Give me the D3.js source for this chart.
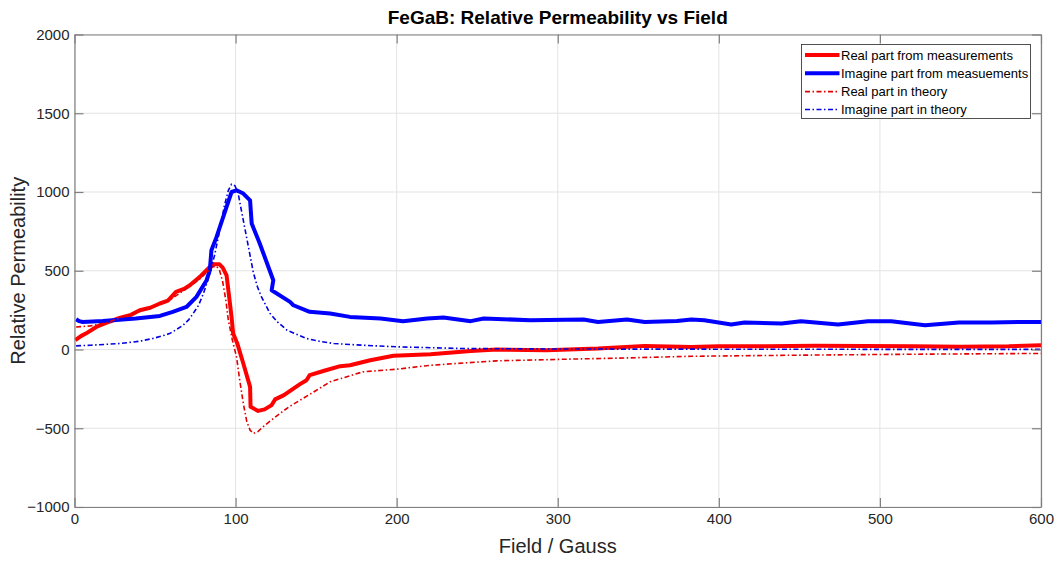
<!DOCTYPE html>
<html>
<head>
<meta charset="utf-8">
<script src="https://cdn.jsdelivr.net/npm/d3@7"></script>
<style>
  html, body { margin: 0; padding: 0; background: #fff; }
  svg { display: block; font-family: "Liberation Sans", Arial, sans-serif; }
</style>
</head>
<body>
<div id="chart"></div>
<script>
// Field values (Gauss) and relative permeability, measured and theoretical
const realMeasField = [0.5, 4, 7, 13.5, 20, 28, 35, 40.5, 47, 53, 58, 63, 68, 71.6, 77.8, 84, 86, 90, 92, 94.4, 97.5, 98.5, 101, 104.8, 109, 109.3, 114, 118, 122.4, 124.5, 130, 135.9, 140, 144, 146, 155, 165, 171, 183.6, 198, 221, 246, 262, 293, 325, 354, 383, 400, 430, 460, 490, 520, 550, 580, 600];
const realMeasValue = [59, 85, 101, 143, 170, 200, 220, 249, 265, 292, 310, 366, 385, 408, 461, 524, 541, 541, 520, 471, 207, 101, 40, -89, -237, -364, -390, -380, -353, -317, -290, -248, -220, -195, -163, -135, -106, -100, -68, -40, -30, -9, 0, -4, 6, 23, 16, 21, 20, 24, 22, 20, 18, 20, 27];

const imagMeasField = [1, 3, 5, 17.6, 38, 53, 61, 69.5, 75.7, 82, 84, 85, 88.2, 94.4, 97.5, 100.6, 104.8, 109, 110, 115, 123.4, 122.4, 133.8, 135.9, 146, 158.7, 171, 190, 204, 219, 229, 246, 254, 283, 316, 325, 343, 354, 374, 383, 391, 407.7, 416, 439, 451, 474, 492.6, 507, 528, 549, 569.5, 586, 600];
const imagMeasValue = [192, 180, 175, 181, 197, 213, 239, 270, 334, 440, 503, 630, 715, 905, 1000, 1011, 990, 947, 800, 673, 440, 376, 302, 281, 239, 228, 207, 197, 180, 197, 203, 180, 197, 186, 190, 175, 190, 175, 181, 190, 186, 159, 171, 165, 180, 159, 180, 180, 154, 171, 171, 175, 175];

const realTheoryField = [1, 10, 20, 28, 40, 50, 60, 70, 78, 84, 86, 88, 90, 92, 94, 95.5, 98, 100.6, 102.5, 104.8, 107, 109, 111, 114, 117, 122, 127.6, 133, 140, 150, 158.7, 179, 200, 221, 262, 304, 345, 383, 450, 520, 600];
const realTheoryValue = [143, 150, 170, 200, 240, 275, 320, 390, 450, 510, 525, 530, 505, 430, 310, 186, 60, -47, -190, -343, -460, -512, -533, -520, -491, -450, -406, -365, -322, -260, -205, -142, -125, -100, -72, -62, -53, -43, -36, -30, -25];

const imagTheoryField = [1, 10, 20, 28, 40, 48.7, 55, 59, 63, 67.4, 71, 73.6, 77, 80, 82, 84, 87, 90, 93, 95.5, 97.5, 99.6, 101.6, 104.8, 108, 111, 113.5, 116, 121.4, 126, 132, 144, 152, 161, 179, 200, 242, 304, 400, 500, 600];
const imagTheoryValue = [23, 27, 33, 38, 52, 70, 88, 101, 125, 154, 190, 228, 280, 355, 415, 482, 600, 750, 910, 1010, 1050, 1040, 990, 820, 650, 490, 400, 335, 228, 175, 122, 70, 52, 38, 27, 17, 6, 3, 2, 1, 1];

// Axis ticks and labels
const xTicks = [0, 100, 200, 300, 400, 500, 600];
const yTicks = [-1000, -500, 0, 500, 1000, 1500, 2000];
const legendLabels = ["Real part from measurements", "Imagine part from measuements", "Real part in theory", "Imagine part in theory"];

const W = 1057, H = 561;
const margin = { left: 74.5, right: 16, top: 34.5, bottom: 54 };
const plotW = W - margin.left - margin.right;
const plotH = H - margin.top - margin.bottom;

const svg = d3.select("#chart").append("svg").attr("width", W).attr("height", H);

const x = d3.scaleLinear().domain([0, 600]).range([margin.left, margin.left + plotW]);
const y = d3.scaleLinear().domain([-1000, 2000]).range([margin.top + plotH, margin.top]);

const axisColor = "#808080";
const textColor = "#262626";

// grid
const grid = svg.append("g");
grid.selectAll("line.gx").data(xTicks).join("line")
  .attr("x1", d => x(d)).attr("x2", d => x(d))
  .attr("y1", margin.top).attr("y2", margin.top + plotH)
  .attr("stroke", "#e3e3e3").attr("stroke-width", 1);
grid.selectAll("line.gy").data(yTicks).join("line")
  .attr("y1", d => y(d)).attr("y2", d => y(d))
  .attr("x1", margin.left).attr("x2", margin.left + plotW)
  .attr("stroke", "#e3e3e3").attr("stroke-width", 1);

// clip for data lines
svg.append("clipPath").attr("id", "plotclip").append("rect")
  .attr("x", margin.left).attr("y", margin.top).attr("width", plotW).attr("height", plotH);

const lineGen = d3.line().x(d => x(d[0])).y(d => y(d[1]));
const zip = (a, b) => a.map((v, i) => [v, b[i]]);

const series = [
  { data: zip(realMeasField, realMeasValue), color: "#ff0000", width: 4, dash: null },
  { data: zip(imagMeasField, imagMeasValue), color: "#0000ff", width: 4, dash: null },
  { data: zip(realTheoryField, realTheoryValue), color: "#e00000", width: 1.6, dash: "5,2.5,1.5,2.5" },
  { data: zip(imagTheoryField, imagTheoryValue), color: "#0000e0", width: 1.6, dash: "5,2.5,1.5,2.5" }
];

const lines = svg.append("g").attr("clip-path", "url(#plotclip)");
// theory lines are drawn after the measured ones so the dashes stay visible
series.forEach(s => {
  lines.append("path")
    .attr("d", lineGen(s.data))
    .attr("fill", "none")
    .attr("stroke", s.color)
    .attr("stroke-width", s.width)
    .attr("stroke-linejoin", "round")
    .attr("stroke-dasharray", s.dash);
});

// axes with ticks pointing inward on all four sides
const fmt = d3.format("d");
const xAxis = d3.axisBottom(x).tickValues(xTicks).tickFormat(fmt).tickSizeInner(-9).tickSizeOuter(0).tickPadding(14);
const yAxis = d3.axisLeft(y).tickValues(yTicks).tickFormat(fmt).tickSizeInner(-9).tickSizeOuter(0).tickPadding(14);

const gx = svg.append("g").attr("transform", `translate(0,${margin.top + plotH})`).call(xAxis);
const gy = svg.append("g").attr("transform", `translate(${margin.left},0)`).call(yAxis);
const gx2 = svg.append("g").attr("transform", `translate(0,${margin.top})`)
  .call(d3.axisTop(x).tickValues(xTicks).tickSizeInner(-9).tickSizeOuter(0).tickFormat(""));
const gy2 = svg.append("g").attr("transform", `translate(${margin.left + plotW},0)`)
  .call(d3.axisRight(y).tickValues(yTicks).tickSizeInner(-9).tickSizeOuter(0).tickFormat(""));

[gx, gy, gx2, gy2].forEach(g => {
  g.select(".domain").attr("stroke", axisColor).attr("stroke-width", 1.2);
  g.selectAll(".tick line").attr("stroke", axisColor).attr("stroke-width", 1.2);
  g.selectAll(".tick text").attr("fill", textColor).style("font-size", "15px")
    .style("font-family", "'Liberation Sans', Arial, sans-serif");
});
gy.selectAll(".tick text").attr("x", -5);
gx.selectAll(".tick text").attr("dy", "0.2em");

// title
svg.append("text")
  .attr("x", margin.left + plotW / 2).attr("y", 24)
  .attr("text-anchor", "middle")
  .attr("fill", "#000")
  .style("font-size", "19px").style("font-weight", "bold")
  .text("FeGaB: Relative Permeability vs Field");

// axis labels
svg.append("text")
  .attr("x", margin.left + plotW / 2).attr("y", 553)
  .attr("text-anchor", "middle").attr("fill", textColor)
  .style("font-size", "20px")
  .text("Field / Gauss");
svg.append("text")
  .attr("transform", `translate(25,${margin.top + plotH / 2}) rotate(-90)`)
  .attr("text-anchor", "middle").attr("fill", textColor)
  .style("font-size", "20px")
  .text("Relative Permeability");

// legend
const lg = svg.append("g");
lg.append("rect")
  .attr("x", 801.5).attr("y", 44.5).attr("width", 229).attr("height", 74)
  .attr("fill", "#fff").attr("stroke", "#262626").attr("stroke-width", 0.8);
const rowY = [55, 73.3, 91.6, 109.5];
legendLabels.forEach((lab, i) => {
  const s = series[i];
  lg.append("line")
    .attr("x1", 805).attr("x2", 839.5).attr("y1", rowY[i]).attr("y2", rowY[i])
    .attr("stroke", s.color).attr("stroke-width", s.width)
    .attr("stroke-dasharray", s.dash);
  lg.append("text")
    .attr("x", 841).attr("y", rowY[i]).attr("dy", "0.35em")
    .attr("fill", "#000").style("font-size", "13px")
    .text(lab);
});
</script>
</body>
</html>
